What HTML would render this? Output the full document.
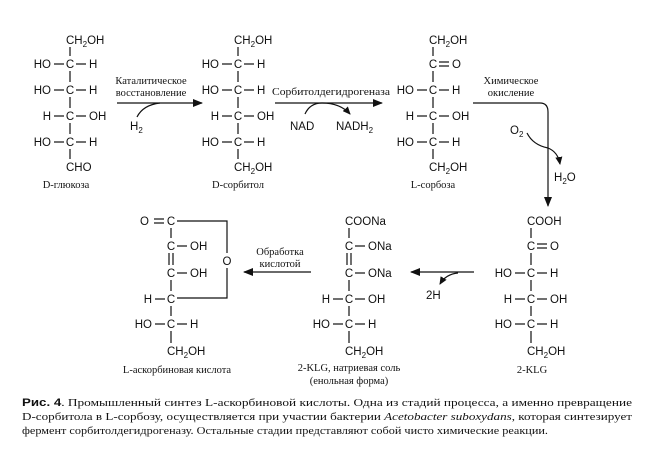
<!DOCTYPE html>
<html><head><meta charset="utf-8"><style>
html,body{margin:0;padding:0;background:#fff}
svg{display:block}
.f{font-family:"Liberation Sans",sans-serif;font-size:11.5px;fill:#111}
.s{font-family:"Liberation Serif",serif;font-size:10.5px;fill:#111}
.sub{font-size:8px}
line,path,polyline{stroke:#111;stroke-width:1.2;fill:none}
</style></head><body>
<svg width="653" height="451" viewBox="0 0 653 451" xmlns="http://www.w3.org/2000/svg">
<defs><marker id="a" markerWidth="10" markerHeight="8" refX="9" refY="4" orient="auto" markerUnits="userSpaceOnUse"><path d="M0,0 L10,4 L0,8 Z" style="fill:#111;stroke:none"/></marker>
<marker id="b" markerWidth="8" markerHeight="7" refX="7" refY="3.5" orient="auto" markerUnits="userSpaceOnUse"><path d="M0,0 L8,3.5 L0,7 Z" style="fill:#111;stroke:none"/></marker></defs>

<!-- D-glucose cx=70 -->
<g class="f">
<text x="66" y="44">CH<tspan class="sub" dy="3">2</tspan><tspan dy="-3">OH</tspan></text>
<text x="70" y="68" text-anchor="middle">C</text><text x="51" y="68" text-anchor="end">HO</text><text x="89" y="68">H</text>
<text x="70" y="94" text-anchor="middle">C</text><text x="51" y="94" text-anchor="end">HO</text><text x="89" y="94">H</text>
<text x="70" y="120" text-anchor="middle">C</text><text x="51" y="120" text-anchor="end">H</text><text x="89" y="120">OH</text>
<text x="70" y="146" text-anchor="middle">C</text><text x="51" y="146" text-anchor="end">HO</text><text x="89" y="146">H</text>
<text x="66" y="171">CHO</text>
</g>
<g><line x1="70" y1="47" x2="70" y2="56"/><line x1="70" y1="71" x2="70" y2="82"/><line x1="70" y1="97" x2="70" y2="108"/><line x1="70" y1="123" x2="70" y2="134"/><line x1="70" y1="149" x2="70" y2="159"/>
<line x1="54" y1="64" x2="64" y2="64"/><line x1="76" y1="64" x2="86" y2="64"/><line x1="54" y1="90" x2="64" y2="90"/><line x1="76" y1="90" x2="86" y2="90"/><line x1="54" y1="116" x2="64" y2="116"/><line x1="76" y1="116" x2="86" y2="116"/><line x1="54" y1="142" x2="64" y2="142"/><line x1="76" y1="142" x2="86" y2="142"/></g>
<text class="s" x="66" y="188" text-anchor="middle">D-глюкоза</text>

<!-- D-sorbitol cx=238 -->
<g class="f">
<text x="234" y="44">CH<tspan class="sub" dy="3">2</tspan><tspan dy="-3">OH</tspan></text>
<text x="238" y="68" text-anchor="middle">C</text><text x="219" y="68" text-anchor="end">HO</text><text x="257" y="68">H</text>
<text x="238" y="94" text-anchor="middle">C</text><text x="219" y="94" text-anchor="end">HO</text><text x="257" y="94">H</text>
<text x="238" y="120" text-anchor="middle">C</text><text x="219" y="120" text-anchor="end">H</text><text x="257" y="120">OH</text>
<text x="238" y="146" text-anchor="middle">C</text><text x="219" y="146" text-anchor="end">HO</text><text x="257" y="146">H</text>
<text x="234" y="171">CH<tspan class="sub" dy="3">2</tspan><tspan dy="-3">OH</tspan></text>
</g>
<g><line x1="238" y1="47" x2="238" y2="56"/><line x1="238" y1="71" x2="238" y2="82"/><line x1="238" y1="97" x2="238" y2="108"/><line x1="238" y1="123" x2="238" y2="134"/><line x1="238" y1="149" x2="238" y2="159"/>
<line x1="222" y1="64" x2="232" y2="64"/><line x1="244" y1="64" x2="254" y2="64"/><line x1="222" y1="90" x2="232" y2="90"/><line x1="244" y1="90" x2="254" y2="90"/><line x1="222" y1="116" x2="232" y2="116"/><line x1="244" y1="116" x2="254" y2="116"/><line x1="222" y1="142" x2="232" y2="142"/><line x1="244" y1="142" x2="254" y2="142"/></g>
<text class="s" x="238" y="188" text-anchor="middle">D-сорбитол</text>

<!-- L-sorbose cx=433 -->
<g class="f">
<text x="429" y="44">CH<tspan class="sub" dy="3">2</tspan><tspan dy="-3">OH</tspan></text>
<text x="433" y="68" text-anchor="middle">C</text><text x="452" y="68">O</text>
<text x="433" y="94" text-anchor="middle">C</text><text x="414" y="94" text-anchor="end">HO</text><text x="452" y="94">H</text>
<text x="433" y="120" text-anchor="middle">C</text><text x="414" y="120" text-anchor="end">H</text><text x="452" y="120">OH</text>
<text x="433" y="146" text-anchor="middle">C</text><text x="414" y="146" text-anchor="end">HO</text><text x="452" y="146">H</text>
<text x="429" y="171">CH<tspan class="sub" dy="3">2</tspan><tspan dy="-3">OH</tspan></text>
</g>
<g><line x1="433" y1="47" x2="433" y2="56"/><line x1="433" y1="71" x2="433" y2="82"/><line x1="433" y1="97" x2="433" y2="108"/><line x1="433" y1="123" x2="433" y2="134"/><line x1="433" y1="149" x2="433" y2="159"/>
<line x1="439" y1="62" x2="449" y2="62"/><line x1="439" y1="66" x2="449" y2="66"/>
<line x1="417" y1="90" x2="427" y2="90"/><line x1="439" y1="90" x2="449" y2="90"/><line x1="417" y1="116" x2="427" y2="116"/><line x1="439" y1="116" x2="449" y2="116"/><line x1="417" y1="142" x2="427" y2="142"/><line x1="439" y1="142" x2="449" y2="142"/></g>
<text class="s" x="433" y="188" text-anchor="middle">L-сорбоза</text>

<!-- arrow 1 -->
<text class="s" x="151" y="84" text-anchor="middle">Каталитическое</text>
<text class="s" x="151" y="96" text-anchor="middle">восстановление</text>
<line x1="117" y1="103" x2="202" y2="103" marker-end="url(#a)"/>
<path d="M137,117 Q143,105 160,103"/>
<text class="f" x="130" y="130">H<tspan class="sub" dy="3">2</tspan></text>

<!-- arrow 2 -->
<text class="s" x="331" y="95" text-anchor="middle" textLength="118" lengthAdjust="spacingAndGlyphs">Сорбитолдегидрогеназа</text>
<line x1="275" y1="103" x2="382" y2="103" marker-end="url(#a)"/>
<path d="M305,114 Q310,103 322,103 Q340,103 350,114" marker-end="url(#b)"/>
<text class="f" x="290" y="130">NAD</text>
<text class="f" x="336" y="130">NADH<tspan class="sub" dy="3">2</tspan></text>

<!-- arrow 3 -->
<text class="s" x="511" y="84" text-anchor="middle">Химическое</text>
<text class="s" x="511" y="96" text-anchor="middle">окисление</text>
<path d="M473,103 L540,103 Q548,103 548,112 L548,206" marker-end="url(#a)"/>
<text class="f" x="510" y="134">O<tspan class="sub" dy="3">2</tspan></text>
<path d="M527,133 Q533,145 548,148 Q558,152 560,164" marker-end="url(#b)"/>
<text class="f" x="554" y="181">H<tspan class="sub" dy="3">2</tspan><tspan dy="-3">O</tspan></text>

<!-- 2-KLG cx=531 -->
<g class="f">
<text x="527" y="225">COOH</text>
<text x="531" y="250" text-anchor="middle">C</text><text x="550" y="250">O</text>
<text x="531" y="277" text-anchor="middle">C</text><text x="512" y="277" text-anchor="end">HO</text><text x="550" y="277">H</text>
<text x="531" y="303" text-anchor="middle">C</text><text x="512" y="303" text-anchor="end">H</text><text x="550" y="303">OH</text>
<text x="531" y="328" text-anchor="middle">C</text><text x="512" y="328" text-anchor="end">HO</text><text x="550" y="328">H</text>
<text x="527" y="355">CH<tspan class="sub" dy="3">2</tspan><tspan dy="-3">OH</tspan></text>
</g>
<g><line x1="531" y1="228" x2="531" y2="238"/><line x1="531" y1="253" x2="531" y2="265"/><line x1="531" y1="280" x2="531" y2="291"/><line x1="531" y1="306" x2="531" y2="316"/><line x1="531" y1="331" x2="531" y2="343"/>
<line x1="537" y1="244" x2="547" y2="244"/><line x1="537" y1="248" x2="547" y2="248"/>
<line x1="515" y1="273" x2="525" y2="273"/><line x1="537" y1="273" x2="547" y2="273"/><line x1="515" y1="299" x2="525" y2="299"/><line x1="537" y1="299" x2="547" y2="299"/><line x1="515" y1="324" x2="525" y2="324"/><line x1="537" y1="324" x2="547" y2="324"/></g>
<text class="s" x="532" y="373" text-anchor="middle">2-KLG</text>

<!-- arrow 2H -->
<line x1="474" y1="272" x2="411" y2="272" marker-end="url(#a)"/>
<path d="M458,273 Q446,274 440,284" marker-end="url(#b)"/>
<text class="f" x="426" y="299">2H</text>

<!-- Na salt cx=349 -->
<g class="f">
<text x="345" y="225">COONa</text>
<text x="349" y="250" text-anchor="middle">C</text><text x="368" y="250">ONa</text>
<text x="349" y="277" text-anchor="middle">C</text><text x="368" y="277">ONa</text>
<text x="349" y="303" text-anchor="middle">C</text><text x="330" y="303" text-anchor="end">H</text><text x="368" y="303">OH</text>
<text x="349" y="328" text-anchor="middle">C</text><text x="330" y="328" text-anchor="end">HO</text><text x="368" y="328">H</text>
<text x="345" y="355">CH<tspan class="sub" dy="3">2</tspan><tspan dy="-3">OH</tspan></text>
</g>
<g><line x1="349" y1="228" x2="349" y2="238"/><line x1="347" y1="253" x2="347" y2="265"/><line x1="351" y1="253" x2="351" y2="265"/><line x1="349" y1="280" x2="349" y2="291"/><line x1="349" y1="306" x2="349" y2="316"/><line x1="349" y1="331" x2="349" y2="343"/>
<line x1="355" y1="246" x2="365" y2="246"/><line x1="355" y1="273" x2="365" y2="273"/>
<line x1="333" y1="299" x2="343" y2="299"/><line x1="355" y1="299" x2="365" y2="299"/><line x1="333" y1="324" x2="343" y2="324"/><line x1="355" y1="324" x2="365" y2="324"/></g>
<text class="s" x="349" y="371" text-anchor="middle">2-KLG, натриевая соль</text>
<text class="s" x="349" y="384" text-anchor="middle">(енольная форма)</text>

<!-- arrow acid -->
<text class="s" x="280" y="255" text-anchor="middle">Обработка</text>
<text class="s" x="280" y="267" text-anchor="middle">кислотой</text>
<line x1="311" y1="272" x2="244" y2="272" marker-end="url(#a)"/>

<!-- ascorbic cx=171 -->
<g class="f">
<text x="171" y="225" text-anchor="middle">C</text><text x="140" y="225">O</text>
<text x="171" y="250" text-anchor="middle">C</text><text x="190" y="250">OH</text>
<text x="171" y="277" text-anchor="middle">C</text><text x="190" y="277">OH</text>
<text x="171" y="303" text-anchor="middle">C</text><text x="152" y="303" text-anchor="end">H</text>
<text x="171" y="328" text-anchor="middle">C</text><text x="152" y="328" text-anchor="end">HO</text><text x="190" y="328">H</text>
<text x="167" y="355">CH<tspan class="sub" dy="3">2</tspan><tspan dy="-3">OH</tspan></text>
<text x="227" y="265" text-anchor="middle">O</text>
</g>
<g><line x1="154" y1="219" x2="164" y2="219"/><line x1="154" y1="223" x2="164" y2="223"/>
<line x1="171" y1="228" x2="171" y2="238"/><line x1="169" y1="253" x2="169" y2="265"/><line x1="173" y1="253" x2="173" y2="265"/><line x1="171" y1="280" x2="171" y2="291"/><line x1="171" y1="306" x2="171" y2="316"/><line x1="171" y1="331" x2="171" y2="343"/>
<line x1="177" y1="246" x2="187" y2="246"/><line x1="177" y1="273" x2="187" y2="273"/><line x1="155" y1="299" x2="165" y2="299"/>
<line x1="155" y1="324" x2="165" y2="324"/><line x1="177" y1="324" x2="187" y2="324"/>
<polyline points="177,221 227,221 227,253"/><polyline points="177,298 227,298 227,268"/></g>
<text class="s" x="177" y="373" text-anchor="middle">L-аскорбиновая кислота</text>

<!-- caption -->
<g class="s" style="font-size:11px">
<text x="22" y="406" textLength="610" lengthAdjust="spacingAndGlyphs"><tspan style="font-family:'Liberation Sans Narrow','Liberation Sans',sans-serif;font-weight:bold">Рис. 4</tspan>. Промышленный синтез L-аскорбиновой кислоты. Одна из стадий процесса, а именно превращение</text>
<text x="22" y="420" textLength="610" lengthAdjust="spacingAndGlyphs">D-сорбитола в L-сорбозу, осуществляется при участии бактерии <tspan font-style="italic">Acetobacter suboxydans</tspan>, которая синтезирует</text>
<text x="22" y="434" textLength="526" lengthAdjust="spacingAndGlyphs">фермент сорбитолдегидрогеназу. Остальные стадии представляют собой чисто химические реакции.</text>
</g>
</svg>
</body></html>
